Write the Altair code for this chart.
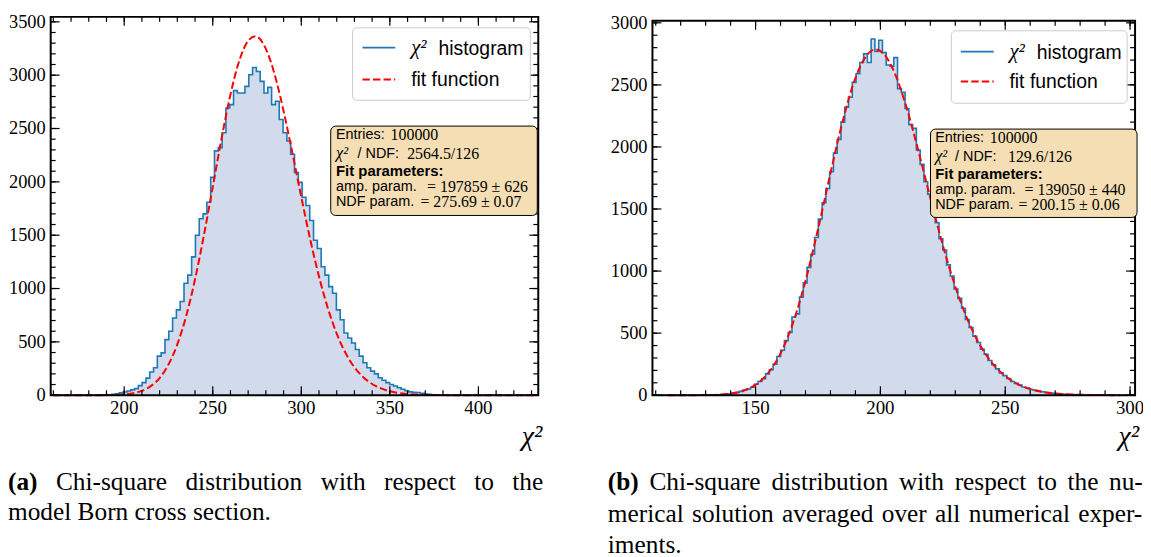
import altair as alt
import pandas as pd

# ---------------- data ----------------
# panel (a): 128 histogram bins spanning the x range
LEFT_RANGE = [158.5, 433.8]
LEFT_COUNTS = [0, 0, 0, 0, 0, 0, 0, 0, 0, 0, 0, 0,
               1, 1, 3, 5, 8, 14, 22, 30, 40, 50,
               62, 90, 118, 160, 217, 258, 366, 397, 521, 600,
               723, 800, 878, 1049, 1126, 1297, 1499, 1654, 1700, 1809,
               2042, 2290, 2321, 2461, 2693, 2724, 2855, 2833, 2833, 2895,
               3004, 3072, 3035, 2942, 2833, 2886, 2724, 2755, 2585, 2461,
               2383, 2259, 2088, 1995, 1856, 1778, 1638, 1452, 1375, 1204,
               1126, 1018, 956, 800, 707, 583, 537, 490, 428, 366,
               304, 258, 226, 200, 164, 140, 118, 100, 87, 70,
               56, 42, 31, 28, 25, 18, 12, 8, 5, 3,
               2, 1,
               0, 0, 0, 0, 0, 0, 0, 0, 0, 0, 0, 0,
               0, 0, 0, 0, 0, 0, 0, 0, 0, 0, 0, 0]
LEFT_FIT_X = [160, 170, 180, 185, 190, 195, 200, 205, 210, 215, 220, 225, 230,
              235, 240, 245, 250, 255, 260, 265, 270, 274, 278, 282, 286, 290,
              295, 300, 305, 310, 315, 320, 325, 330, 335, 340, 345, 350, 355,
              360, 370, 380, 390, 400, 432]
LEFT_FIT_Y = [0, 0, 0.1, 0.3, 1.0, 2.9, 7.7, 18.5, 41, 85, 161, 287, 477,
              742, 1087, 1499, 1952, 2409, 2819, 3136, 3323, 3365, 3309, 3163,
              2942, 2663, 2268, 1857, 1463, 1112, 815, 577, 395, 262, 169, 105,
              64, 37, 21, 12, 3.4, 0.9, 0.2, 0.05, 0]
LEFT_YMAX = 3546.5
LEFT_XTICKS = [200, 250, 300, 350, 400]
LEFT_YTICKS = [0, 500, 1000, 1500, 2000, 2500, 3000, 3500]

# panel (b)
RIGHT_RANGE = [108.7, 302.0]
RIGHT_COUNTS = [0, 0, 0, 0, 0, 0, 0, 0, 0, 0, 0, 0, 0,
                1, 1, 2, 3, 4, 6, 8, 12, 17, 22,
                31, 42, 50, 64, 88, 110, 132, 172, 205, 250,
                312, 362, 440, 505, 630, 655, 790, 905, 1030, 1135,
                1270, 1420, 1550, 1665, 1800, 1950, 2060, 2200, 2320, 2400,
                2520, 2590, 2680, 2750, 2680, 2870, 2770, 2860, 2760, 2660,
                2650, 2720, 2470, 2440, 2310, 2180, 2150, 1975, 1860, 1720,
                1620, 1480, 1390, 1260, 1170, 1050, 960, 855, 780, 700,
                610, 545, 475, 425, 370, 330, 280, 245, 212, 180,
                158, 135, 110, 95, 82, 66, 58, 46, 40, 33,
                28, 22, 18, 15, 12, 10, 8, 6, 5, 4,
                3, 2, 2, 1, 1, 1,
                0, 0, 0, 0, 0, 0, 0, 0, 0]
RIGHT_FIT_X = [115, 125, 130, 135, 140, 145, 150, 155, 160, 165, 170, 175,
               180, 185, 190, 195, 198, 201, 205, 210, 215, 220, 225, 230,
               235, 240, 245, 250, 255, 260, 265, 270, 280, 290, 296]
RIGHT_FIT_Y = [0, 0.3, 1.3, 4.4, 13, 35, 84, 177, 337, 583, 921, 1337,
               1788, 2216, 2555, 2750, 2785, 2757, 2628, 2349, 1984, 1589,
               1208, 875, 605, 400, 253, 154, 90, 50, 27, 14, 3.5, 0.8, 0.3]
RIGHT_YMAX = 3016
RIGHT_XTICKS = [150, 200, 250, 300]
RIGHT_YTICKS = [0, 500, 1000, 1500, 2000, 2500, 3000]

X_TITLE = "χ²"
LEGEND_LABELS = ["histogram", "fit function"]
LEFT_BOX = [("Entries:", "100000"), ("/ NDF:", "2564.5/126"), "Fit parameters:",
            ("amp. param.", "= 197859 ± 626"), ("NDF param.", "= 275.69 ± 0.07")]
RIGHT_BOX = [("Entries:", "100000"), ("/ NDF:", "129.6/126"), "Fit parameters:",
             ("amp. param.", "= 139050 ± 440"), ("NDF param.", "= 200.15 ± 0.06")]
CAP_A = [["(a)", "Chi-square", "distribution", "with", "respect", "to", "the"],
         ["model Born cross section."]]
CAP_B = [["(b)", "Chi-square", "distribution", "with", "respect", "to", "the", "nu-"],
         ["merical", "solution", "averaged", "over", "all", "numerical", "exper-"],
         ["iments."]]

# ---------------- styling / layout (page pixel coordinates) ----------------
SERIF = "Liberation Serif"
SANS = "Liberation Sans"
FILL = "#d1dbeb"
BLUE = "#1f77b4"
M = 8  # page margin: view coordinate = page coordinate - M
ONE = pd.DataFrame({"k": [0]})


def V(p):
    return p - M


def minor_ticks(lo, hi, step):
    return [v for v in range(int(lo // step + 1) * step, int(hi) + 1, step)]


def txt(t, x, y, font, size, weight="normal", style="normal", baseline="middle",
        align="left"):
    return alt.Chart(ONE).mark_text(
        font=font, fontSize=size, fontWeight=weight, fontStyle=style,
        align=align, baseline=baseline, color="black"
    ).encode(x=alt.value(V(x)), y=alt.value(V(y)), text=alt.value(t))


def panel(rng, counts, fit_x, fit_y, ymax, frame, xmaj, ymaj, ymax_tick,
          leg, box, box_lines, box_offsets, cap_words, cap_x, cap_y):
    fx0, fy0, fx1, fy1 = frame
    xs = alt.Scale(domain=rng, range=[V(fx0), V(fx1)], nice=False, zero=False)
    ys = alt.Scale(domain=[0, ymax], range=[V(fy1), V(fy0)], nice=False, zero=False)

    def X(f):
        return alt.X(f, scale=xs, axis=None)

    def Y(f):
        return alt.Y(f, scale=ys, axis=None)

    w = (rng[1] - rng[0]) / len(counts)
    hist = pd.DataFrame({"x": [rng[0] + i * w for i in range(len(counts) + 1)],
                         "y": counts + [counts[-1]]})
    fit = pd.DataFrame({"fx": fit_x, "fy": fit_y})

    layers = []
    layers.append(alt.Chart(hist).mark_area(interpolate="step-after", color=FILL).encode(
        x=X("x:Q"), y=Y("y:Q")))
    layers.append(alt.Chart(hist).mark_line(interpolate="step-after", color=BLUE,
                                            strokeWidth=1.6).encode(x=X("x:Q"), y=Y("y:Q")))
    layers.append(alt.Chart(fit).mark_line(interpolate="monotone", color="red",
                                           strokeWidth=2, strokeDash=[7.4, 3.2]).encode(
        x=X("fx:Q"), y=Y("fy:Q")))

    # inward ticks on all four sides
    xminor = minor_ticks(rng[0], rng[1], 10)
    yminor = list(range(0, ymax_tick + 1, 100))
    for vals, L in ((xmaj, 9), (xminor, 5)):
        d = pd.DataFrame({"v": vals})
        for y0, y1 in ((fy1, fy1 - L), (fy0, fy0 + L)):
            layers.append(alt.Chart(d).mark_rule(color="black", strokeWidth=1.2).encode(
                x=X("v:Q"), y=alt.value(V(y0)), y2=alt.value(V(y1))))
    for vals, L in ((ymaj, 9), (yminor, 5)):
        d = pd.DataFrame({"v": vals})
        for x0, x1 in ((fx0, fx0 + L), (fx1, fx1 - L)):
            layers.append(alt.Chart(d).mark_rule(color="black", strokeWidth=1.2).encode(
                y=Y("v:Q"), x=alt.value(V(x0)), x2=alt.value(V(x1))))
    # tick labels and axis title
    layers.append(alt.Chart(pd.DataFrame({"v": xmaj})).mark_text(
        font=SERIF, fontSize=19, baseline="top", align="center", color="black").encode(
        x=X("v:Q"), y=alt.value(V(fy1 + 4)), text=alt.Text("v:Q", format="d")))
    layers.append(alt.Chart(pd.DataFrame({"v": ymaj})).mark_text(
        font=SERIF, fontSize=18.5, baseline="middle", align="right", color="black").encode(
        y=Y("v:Q"), x=alt.value(V(fx0 - 5)), text=alt.Text("v:Q", format="d")))
    layers.append(txt(X_TITLE, fx1 + 4, 446, SERIF, 28, style="italic",
                      baseline="alphabetic", align="right"))
    # frame
    layers.append(alt.Chart(ONE).mark_rect(fillOpacity=0, stroke="black", strokeWidth=2).encode(
        x=alt.value(V(fx0)), x2=alt.value(V(fx1)), y=alt.value(V(fy0)), y2=alt.value(V(fy1))))

    # legend
    lx0, ly0, lx1, ly1, sx0, sx1, r1, r2, tx = leg
    layers.append(alt.Chart(ONE).mark_rect(fill="white", fillOpacity=0.85, stroke="#cccccc",
                                           strokeWidth=1, cornerRadius=4).encode(
        x=alt.value(V(lx0)), x2=alt.value(V(lx1)), y=alt.value(V(ly0)), y2=alt.value(V(ly1))))
    layers.append(alt.Chart(ONE).mark_rule(color=BLUE, strokeWidth=1.6).encode(
        x=alt.value(V(sx0)), x2=alt.value(V(sx1)), y=alt.value(V(r1))))
    layers.append(alt.Chart(ONE).mark_rule(color="red", strokeWidth=2,
                                           strokeDash=[7.4, 3.2]).encode(
        x=alt.value(V(sx0)), x2=alt.value(V(sx1)), y=alt.value(V(r2))))
    layers.append(txt("χ²", tx, r1, SERIF, 21, style="italic"))
    layers.append(txt(LEGEND_LABELS[0], tx + 27.5, r1 + 1, SANS, 19.5))
    layers.append(txt(LEGEND_LABELS[1], tx, r2 + 1, SANS, 19.5))

    # statistics box
    bx0, by0, bx1, by1, btx, ly = box
    layers.append(alt.Chart(ONE).mark_rect(fill="#f5deb3", stroke="black", strokeWidth=1,
                                           cornerRadius=5).encode(
        x=alt.value(V(bx0)), x2=alt.value(V(bx1)), y=alt.value(V(by0)), y2=alt.value(V(by1))))
    (e1, e2), (n1, n2), fp, (a1, a2), (p1, p2) = box_lines
    o = box_offsets
    layers += [txt(e1, btx, ly[0], SANS, 14.5), txt(e2, btx + o[0], ly[0], SERIF, 16),
               txt("χ²", btx, ly[1] - 1, SERIF, 16.5, style="italic"),
               txt(n1, btx + o[1], ly[1], SANS, 14.5), txt(n2, btx + o[2], ly[1], SERIF, 16),
               txt(fp, btx, ly[2], SANS, 15, weight="bold"),
               txt(a1, btx, ly[3], SANS, 14.5), txt(a2, btx + o[3], ly[3], SERIF, 16),
               txt(p1, btx, ly[4], SANS, 14.5), txt(p2, btx + o[4], ly[4], SERIF, 16)]

    # caption below the panel (justified word by word)
    for li, (words, xs_) in enumerate(zip(cap_words, cap_x)):
        for wd, px in zip(words, xs_):
            wt = "bold" if wd in ("(a)", "(b)") else "normal"
            layers.append(txt(wd, px, cap_y[li], SERIF, 25.5, weight=wt,
                              baseline="alphabetic"))

    return alt.layer(*layers)


left = panel(
    LEFT_RANGE, LEFT_COUNTS, LEFT_FIT_X, LEFT_FIT_Y, LEFT_YMAX, (51, 15, 542, 396),
    LEFT_XTICKS, LEFT_YTICKS, 3500,
    (355, 26, 534, 99, 365, 398, 46, 78, 414),
    (333, 125, 541, 215, 338.3, [134, 153.3, 170, 186.7, 201.7]),
    LEFT_BOX, [55, 21.7, 71.7, 91.7, 85],
    CAP_A,
    [[8, 56.3, 186.7, 322.9, 386.7, 477.5, 515.8], [8]],
    [491, 522],
)
right = panel(
    RIGHT_RANGE, RIGHT_COUNTS, RIGHT_FIT_X, RIGHT_FIT_Y, RIGHT_YMAX, (657, 19, 1143, 396),
    RIGHT_XTICKS, RIGHT_YTICKS, 3000,
    (958, 29, 1135, 102, 967.5, 1000.7, 50, 80, 1016.5),
    (937, 128, 1145, 217, 941.7, [137, 156, 173, 189, 204]),
    RIGHT_BOX, [55, 20, 73.3, 90, 84],
    CAP_B,
    [[612, 654.0, 776.8, 905.2, 961.3, 1044.4, 1075.0, 1116.8],
     [612, 696.9, 787.5, 887.9, 941.6, 975.5, 1085.7],
     [612]],
    [491, 524, 555],
)

chart = alt.layer(left, right).resolve_scale(x="independent", y="independent").properties(
    width=1151 - M,
    height=557 - M,
    padding=0,
    autosize=alt.AutoSizeParams(type="none"),
    background="white",
).configure_view(strokeWidth=0)

chart.save("out.html", embed_options={"renderer": "svg", "actions": False})
